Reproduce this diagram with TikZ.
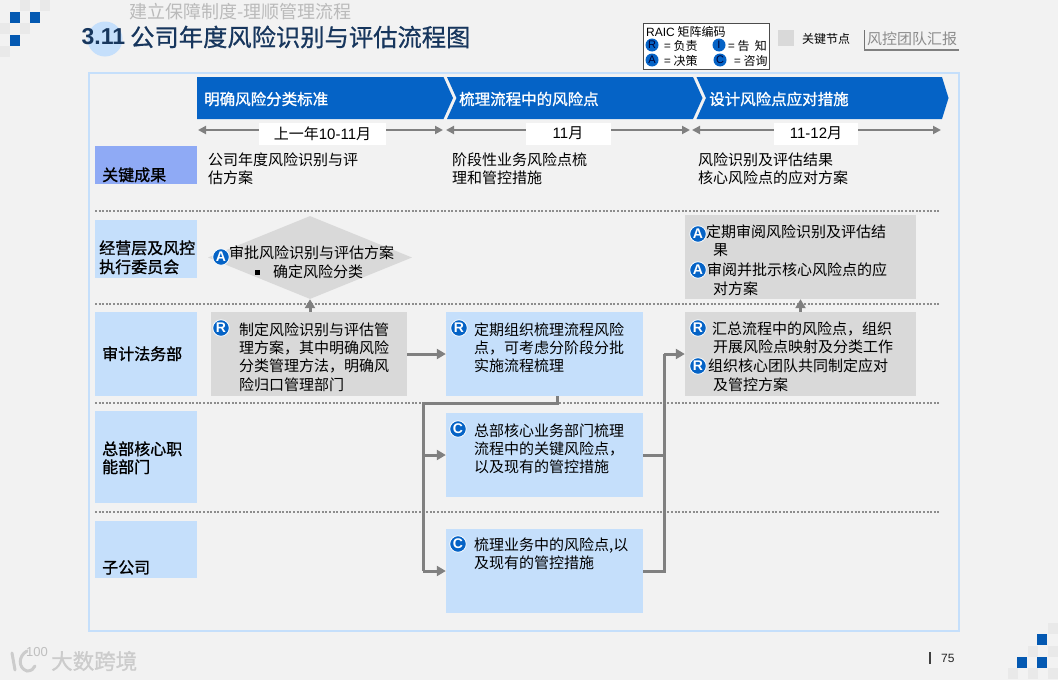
\documentclass[tikz,border=0pt]{standalone}
\usepackage{fontspec}
\setmainfont{Noto Sans CJK SC}
\newfontfamily\latinf{Liberation Sans}
\newfontfamily\semib[FakeBold=1.1]{Noto Sans CJK SC}
\newfontfamily\titlef[FakeBold=0.7]{Noto Sans CJK SC}
\usetikzlibrary{arrows.meta,shapes.geometric}
\definecolor{bgc}{HTML}{F2F2F2}
\definecolor{boxgrey}{HTML}{D9D9D9}
\definecolor{boxblue}{HTML}{C5DFFB}
\definecolor{peri}{HTML}{8FAAF5}
\definecolor{bannerblue}{HTML}{0563C6}
\definecolor{linegrey}{HTML}{808080}
\definecolor{navy}{HTML}{17365D}
\definecolor{lightsq}{HTML}{E9E9E9}
\tikzset{
  x=1pt,y=-1pt,
  txt/.style={anchor=west,inner sep=0pt,font=\fontsize{15}{18}\selectfont,text=black,text height=12.6pt,text depth=1.8pt},
  head/.style={txt,font=\semib\fontsize{15.5}{18}\selectfont,text=white},
  rowtxt/.style={txt,font=\semib\fontsize{16}{18}\selectfont},
  small/.style={txt,font=\fontsize{12}{14}\selectfont},
  gbox/.style={fill=boxgrey},
  bbox/.style={fill=boxblue},
  badge/.style={circle,fill=bannerblue,draw=white,line width=0.8pt,minimum size=16.5pt,inner sep=0pt,text=white,font=\latinf\fontsize{14}{14}\selectfont\bfseries},
  lbadge/.style={circle,fill=bannerblue,minimum size=13pt,inner sep=0pt,text=black!80!blue,font=\latinf\fontsize{11}{11}\selectfont},
  conn/.style={draw=linegrey,line width=3pt},
  arr/.style={conn,-{Triangle[length=9pt,width=10pt]}},
  span/.style={draw=linegrey,line width=2.2pt,{Triangle[length=8pt,width=8pt]}-{Triangle[length=8pt,width=8pt]}},
  datebox/.style={fill=white,inner sep=0pt,font=\fontsize{15}{18}\selectfont,text=black},
  sep/.style={draw=linegrey!90,line width=2pt,dash pattern=on 2pt off 1.6pt},
  bluesq/.style={fill=bannerblue!90!black},
  greysq/.style={fill=lightsq},
}
\newcommand{\lat}[1]{{\latinf #1}}
\begin{document}
\begin{tikzpicture}
\useasboundingbox (0,0) rectangle (1058,680);
\fill[bgc] (0,0) rectangle (1058,680);
% corner squares
\foreach \a/\b in {20/0,40/0,0/23,20/23,0/46}{\fill[greysq] (\a,\b) rectangle ++(10,11);}
\foreach \a/\b in {10/11.5,30/11.5,10/34.5}{\fill[bluesq] (\a,\b) rectangle ++(10,11.5);}
\foreach \a/\b in {1048/623,1028/646,1048/646,1008/668,1028/668,1048/668}{\fill[greysq] (\a,\b) rectangle ++(10,11);}
\foreach \a/\b in {1037/634,1017/657,1037/657}{\fill[bluesq] (\a,\b) rectangle ++(10,11);}
% title
\fill[boxblue] (105,39) circle (17.5);
\node[txt,font=\fontsize{18}{20}\selectfont,text=black!27,text height=15pt,text depth=2pt] (subtitle) at (129,12.5) {建立保障制度-理顺管理流程};
\node[anchor=west,inner sep=0pt,font=\latinf\fontsize{23}{26}\selectfont\bfseries,text=navy] (num) at (81.5,37) {3.11};
\node[anchor=west,inner sep=0pt,font=\titlef\fontsize{24.3}{26}\selectfont,text=navy] (title) at (130,37) {公司年度风险识别与评估流程图};
% legend
\node[draw=black!70,fill=white,line width=0.8pt,minimum width=126pt,minimum height=46pt,inner sep=0pt] (legend) at (706,46) {};
\node[small,font=\fontsize{12}{14}\selectfont] (legt) at (646,31) {\lat{RAIC} 矩阵编码};
\node[lbadge] (l1) at (652,45) {R};
\node[small] (l1t) at (664,45) {= 负责};
\node[lbadge] (l2) at (719,45) {I};
\node[small] (l2t) at (728,45) {= 告\ \ 知};
\node[lbadge] (l3) at (652,60) {A};
\node[small] (l3t) at (664,60) {= 决策};
\node[lbadge] (l4) at (720,60) {C};
\node[small] (l4t) at (734,60) {= 咨询};
\node[fill=boxgrey,minimum width=16pt,minimum height=16pt,inner sep=0pt] (keysw) at (786,37.5) {};
\node[small] (keyt) at (802,38) {关键节点};
\node[txt,text=black!45] (team) at (867,39) {风控团队汇报};
\draw[draw=black!55,line width=1pt] (864,30) -- (864,50);
\draw[draw=linegrey,line width=2.2pt] (864,50) -- (959,50);
% frame
\node[draw=boxblue,line width=2pt,minimum width=870pt,minimum height=558pt,inner sep=0pt] (frame) at (523.5,351.5) {};
% banner
\fill[bannerblue] (197,77) -- (443.5,77) -- (453,98) -- (443.5,119) -- (197,119) -- cycle;
\fill[bannerblue] (447,77) -- (693,77) -- (702.5,98) -- (693,119) -- (447,119) -- (456.5,98) -- cycle;
\fill[bannerblue] (696.5,77) -- (942,77) -- (948.5,98) -- (942,119) -- (696.5,119) -- (706,98) -- cycle;
\node[head] (h1) at (204,99.5) {明确风险分类标准};
\node[head] (h2) at (459,99.5) {梳理流程中的风险点};
\node[head] (h3) at (709,99.5) {设计风险点应对措施};
% time spans
\coordinate (s1a) at (198,130); \coordinate (s1b) at (443,130);
\coordinate (s2a) at (446,130); \coordinate (s2b) at (690,130);
\coordinate (s3a) at (692,130); \coordinate (s3b) at (941,130);
\draw[span] (s1a) -- (s1b);
\draw[span] (s2a) -- (s2b);
\draw[span] (s3a) -- (s3b);
\node[datebox,minimum width=127pt,minimum height=22pt] (d1) at (322.5,133.5) {上一年\lat{10-11}月};
\node[datebox,minimum width=85pt,minimum height=22pt] (d2) at (568,133.5) {\lat{11}月};
\node[datebox,minimum width=84pt,minimum height=22pt] (d3) at (816,133.5) {\lat{11-12}月};
% row labels
\fill[peri] (95,146) rectangle (197,184);
\fill[boxblue] (95,220) rectangle (197,278);
\fill[boxblue] (95,312) rectangle (197,396);
\fill[boxblue] (95,411) rectangle (197,503);
\fill[boxblue] (95,521) rectangle (197,578);
\node[rowtxt] (r1) at (102,175.5) {关键成果};
\node[rowtxt] (r2a) at (99,248.5) {经营层及风控};
\node[rowtxt] (r2b) at (99,267.5) {执行委员会};
\node[rowtxt] (r3) at (102,354.5) {审计法务部};
\node[rowtxt] (r4a) at (102,449.5) {总部核心职};
\node[rowtxt] (r4b) at (102,467.5) {能部门};
\node[rowtxt] (r5) at (102,568) {子公司};
% key results
\node[txt] (k1a) at (208,160.5) {公司年度风险识别与评};
\node[txt] (k1b) at (208,178.5) {估方案};
\node[txt] (k2a) at (452,160.5) {阶段性业务风险点梳};
\node[txt] (k2b) at (452,178.5) {理和管控措施};
\node[txt] (k3a) at (698,160.5) {风险识别及评估结果};
\node[txt] (k3b) at (698,178.5) {核心风险点的应对方案};
% separators
\foreach \yy in {211,304,403,512}{\draw[sep] (95,\yy) -- (940,\yy);}
% boxes
\node[diamond,aspect=2.47,fill=boxgrey,inner sep=0pt,minimum width=204pt,minimum height=83pt] (dia) at (310,257.5) {};
\node[gbox,minimum width=196pt,minimum height=84pt,inner sep=0pt] (g1) at (309,354) {};
\node[bbox,minimum width=197pt,minimum height=84pt,inner sep=0pt] (b1) at (544.5,354) {};
\node[bbox,minimum width=197pt,minimum height=84pt,inner sep=0pt] (b2) at (544.5,455) {};
\node[bbox,minimum width=197pt,minimum height=84pt,inner sep=0pt] (b3) at (544.5,571) {};
\node[gbox,minimum width=231pt,minimum height=84pt,inner sep=0pt] (g2) at (800.5,257) {};
\node[gbox,minimum width=231pt,minimum height=84pt,inner sep=0pt] (g3) at (800.5,354) {};
% connectors
\coordinate (drop) at (557,396);
\coordinate (dropb) at (557,403);
\coordinate (trunkt) at (423,403);
\coordinate (trunkm) at (423,455);
\coordinate (trunkb) at (423,571);
\coordinate (mergem) at (664,455);
\coordinate (mergeb) at (664,571);
\coordinate (merget) at (664,354);
\draw[arr] (g1.north -| dia.south) -- (dia.south);
\draw[arr] (g3.north) -- (g2.south);
\draw[arr] (g1) -- (b1);
\draw[conn] (drop) -- (dropb) -- (trunkt) -- (trunkb);
\draw[arr] (trunkb) -- (b3);
\draw[arr] (trunkm) -- (b2);
\draw[conn] (b2.east) -- (mergem);
\draw[conn] (b3.east) -- (mergeb) -- (merget);
\draw[arr] (merget) -- (g3);
% box texts
\node[badge] (ba) at (221,257) {A};
\node[txt] (t1) at (229,253.5) {审批风险识别与评估方案};
\node[txt] (t2) at (273,272.5) {确定风险分类};
\fill[black] (255,270) rectangle (259.5,274.5);
\node[badge] (bb) at (221,328) {R};
\node[txt] (t3) at (239,330.5) {制定风险识别与评估管};
\node[txt] (t4) at (239,348.5) {理方案，其中明确风险};
\node[txt] (t5) at (239,366.5) {分类管理方法，明确风};
\node[txt] (t6) at (239,385.5) {险归口管理部门};
\node[badge] (bc) at (459,328) {R};
\node[txt] (t7) at (474,330.5) {定期组织梳理流程风险};
\node[txt] (t8) at (474,348.5) {点，可考虑分阶段分批};
\node[txt] (t9) at (474,366.5) {实施流程梳理};
\node[badge] (bd) at (458,429) {C};
\node[txt] (t10) at (474,431.5) {总部核心业务部门梳理};
\node[txt] (t11) at (474,449.5) {流程中的关键风险点，};
\node[txt] (t12) at (474,467.5) {以及现有的管控措施};
\node[badge] (be) at (458,544) {C};
\node[txt] (t13) at (474,545.5) {梳理业务中的风险点,以};
\node[txt] (t14) at (474,563.5) {及现有的管控措施};
\node[badge] (bf) at (698,234) {A};
\node[txt] (t15) at (706,232.5) {定期审阅风险识别及评估结};
\node[txt] (t16) at (713,250.5) {果};
\node[badge] (bg) at (698,270) {A};
\node[txt] (t17) at (707,270.5) {审阅并批示核心风险点的应};
\node[txt] (t18) at (713,289.5) {对方案};
\node[badge] (bh) at (698,328) {R};
\node[txt] (t19) at (712,329.5) {汇总流程中的风险点，组织};
\node[txt] (t20) at (713,347.5) {开展风险点映射及分类工作};
\node[badge] (bi) at (698,366) {R};
\node[txt] (t21) at (708,366.5) {组织核心团队共同制定应对};
\node[txt] (t22) at (713,385.5) {及管控方案};
% footer
\draw[black!75,line width=1.2pt] (930,652) -- (930,664);
\node[anchor=west,inner sep=0pt,font=\latinf\fontsize{12}{12}\selectfont,text=black!85] (pg) at (941,658) {75};
\node[anchor=west,inner sep=0pt,font=\semib\fontsize{21.5}{22}\selectfont,text=black!20] (wm) at (51,661) {大数跨境};
\draw[black!20,line width=3pt,line cap=round] (12,653) -- (15,670);
\draw[black!20,line width=3pt,line cap=round] (27,651) .. controls (18,656) and (18,668) .. (27,671) .. controls (31,671) and (34,669) .. (35,666);
\node[anchor=center,inner sep=0pt,font=\latinf\fontsize{13}{13}\selectfont,text=black!25] (wmn) at (37,652) {100};
\end{tikzpicture}
\end{document}
